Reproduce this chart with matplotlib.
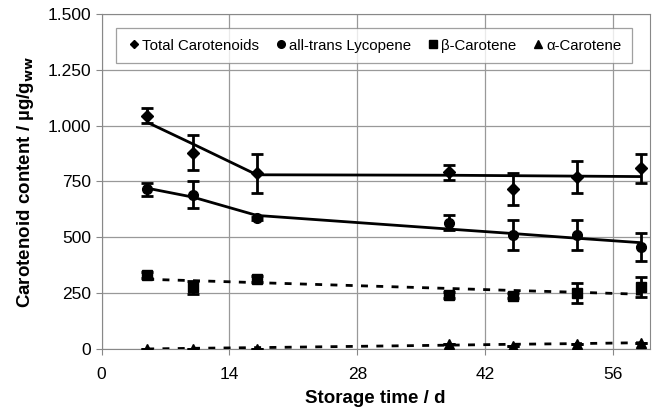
import matplotlib
matplotlib.use("Agg")
import matplotlib.pyplot as plt
from matplotlib.ticker import FuncFormatter
from matplotlib.lines import Line2D

plt.rcParams['font.family'] = ['Liberation Sans', 'DejaVu Sans']

days = [5, 10, 17, 38, 45, 52, 59]

total = [1045, 879, 787, 791, 715, 769, 809]
total_err = [34, 77, 87, 34, 72, 71, 64]
total_fit = [1015, 918, 780, 778, 776, 774, 772]

lyco = [715, 690, 585, 566, 510, 510, 458]
lyco_err = [30, 60, 8, 32, 68, 69, 63]
lyco_fit = [720, 680, 598, 537, 517, 496, 476]

beta = [331, 276, 313, 242, 239, 249, 279]
beta_err = [12, 30, 12, 12, 12, 45, 45]
beta_fit = [312, 306, 297, 271, 262, 254, 245]

alpha = [0, 0, 0, 22, 15, 21, 28]
alpha_err = [0, 0, 0, 0, 0, 0, 0]
alpha_fit = [0, 3, 6, 17, 21, 24, 28]

labels = ['Total Carotenoids', 'all-trans Lycopene', 'β-Carotene', 'α-Carotene']
markers = ['D', 'o', 's', '^']
msizes = [6, 7, 7, 7]

xticks = [0, 14, 28, 42, 56]
yticks = [0, 250, 500, 750, 1000, 1250, 1500]

fig = plt.figure(figsize=(6.55, 4.12), dpi=100)
ax = fig.add_axes([0.155, 0.153, 0.837, 0.813])

series = [(total, total_err, total_fit, '-'),
          (lyco, lyco_err, lyco_fit, '-'),
          (beta, beta_err, beta_fit, (0, (2.5, 3))),
          (alpha, alpha_err, alpha_fit, (0, (2.5, 3)))]

for (vals, err, fit, ls), m, ms in zip(series, markers, msizes):
    ax.plot(days, fit, color='black', lw=2, ls=ls, zorder=3)
    ax.errorbar(days, vals, yerr=err, fmt=m, color='black', ms=ms,
                elinewidth=2, capsize=4, capthick=2, zorder=4)

ax.set_xlim(0, 60)
ax.set_ylim(0, 1500)
ax.set_xticks(xticks)
ax.set_yticks(yticks)
ax.yaxis.set_major_formatter(FuncFormatter(lambda v, p: f"{int(v):,}".replace(',', '.')))
ax.grid(True, color='#999999', lw=0.9)
ax.set_axisbelow(True)
for s in ax.spines.values():
    s.set_color('#888888')
ax.tick_params(axis='both', labelsize=12.5, color='#888888', length=4)
ax.tick_params(axis='x', pad=9)

ax.set_xlabel('Storage time / d', fontsize=13.5, fontweight='bold', labelpad=6)
ax.set_ylabel(r'Carotenoid content / µg/g$_{\mathbf{ww}}$', fontsize=13.5, fontweight='bold', labelpad=8)

handles = [Line2D([], [], marker=m, color='black', ls='none', ms=ms - 1.5) for m, ms in zip(markers, msizes)]
leg = ax.legend(handles, labels, loc='upper center', ncol=4, fontsize=10.8,
                frameon=True, fancybox=False, edgecolor='#888888',
                handletextpad=0.05, columnspacing=0.95, handlelength=1.0,
                bbox_to_anchor=(0.497, 0.98), borderpad=0.7)
leg.get_frame().set_linewidth(0.9)

fig.savefig('out.png', dpi=100)
